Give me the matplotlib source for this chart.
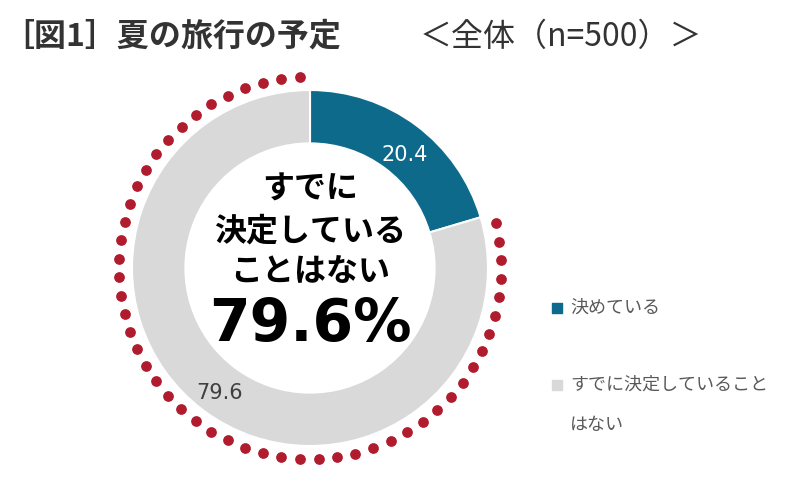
import matplotlib
matplotlib.use("Agg")
import matplotlib.pyplot as plt
import numpy as np

categories = ["決めている", "すでに決定していること\nはない"]
values = [20.4, 79.6]
colors = ["#0e6a8a", "#d9d9d9"]

plt.rcParams["font.family"] = "Noto Sans CJK JP"
fig = plt.figure(figsize=(8, 4.9), dpi=100)
ax = fig.add_axes([0, 0, 1, 1])
H = 490
cx, cy, R = 310, H - 268, 178
ax.pie(values, colors=colors, startangle=90, counterclock=False, center=(cx, cy),
       radius=R, wedgeprops=dict(width=R * 0.3, linewidth=1.5, edgecolor="white"), frame=True)
ax.set_xlim(0, 800); ax.set_ylim(0, 490); ax.set_aspect("equal"); ax.axis("off")

# dotted ring over the majority share
Rd = 191
a0 = 90 + 3
a1 = 90 + 360 * values[1] / 100 - 3
n = 51
ang = np.radians(np.linspace(a0, a1, n))
ax.scatter(cx + Rd * np.cos(ang), cy + Rd * np.sin(ang), s=45, color="#b01c2e", zorder=5)

ax.text(405, H - 155, f"{values[0]}", color="white", fontsize=15, ha="center", va="center", family="DejaVu Sans")
ax.text(220, H - 393, f"{values[1]}", color="#404040", fontsize=15, ha="center", va="center", family="DejaVu Sans")

for t, y in [("すでに", 190), ("決定している", 232), ("ことはない", 272)]:
    ax.text(cx, H - y, t, fontsize=23, fontweight="bold", ha="center", va="center")
ax.text(cx, H - 325, f"{values[1]}%", fontsize=42, fontweight="bold", ha="center", va="center", family="DejaVu Sans")

ax.text(2, H - 37, "［図1］夏の旅行の予定", fontsize=23, fontweight="bold", ha="left", va="center", color="#333333")
ax.text(420, H - 37, "＜全体（n=500）＞", fontsize=23, ha="left", va="center", color="#333333")

ax.scatter([557, 557], [H - 308, H - 385], marker="s", s=60, color=colors)
ax.text(570, H - 308, categories[0], fontsize=13, ha="left", va="center", color="#595959")
lines = categories[1].split("\n")
ax.text(570, H - 385, lines[0], fontsize=13, ha="left", va="center", color="#595959")
ax.text(570, H - 425, lines[1], fontsize=13, ha="left", va="center", color="#595959")

fig.savefig("out.png", dpi=100, facecolor="white")
